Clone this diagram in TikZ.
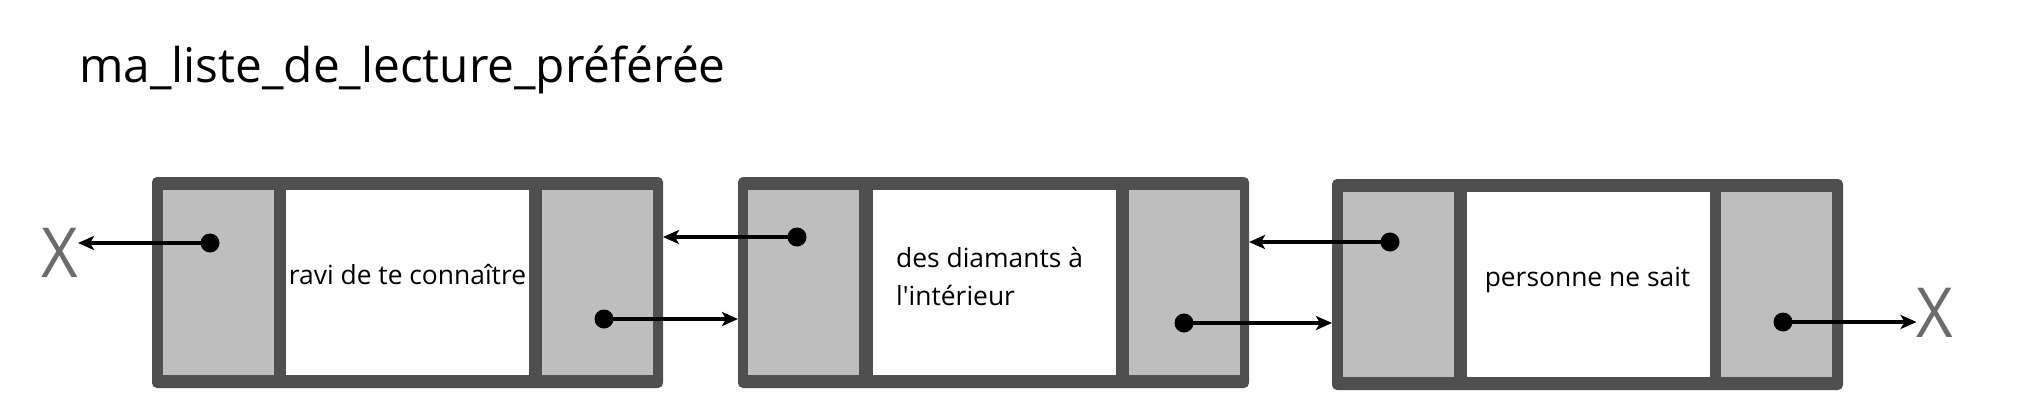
\documentclass[tikz,border=0pt]{standalone}
\usepackage{fontspec}
\setmainfont{Open Sans}[Ligatures=TeXOff]
\usetikzlibrary{arrows.meta,calc}
\definecolor{framegray}{HTML}{4F4F4F}
\definecolor{cellgray}{HTML}{BEBEBE}
\definecolor{xgray}{HTML}{6B6B6B}
\tikzset{
  outerbox/.style={fill=framegray, rounded corners=5pt, inner sep=0pt, outer sep=0pt,
    minimum width=511pt, minimum height=211pt, anchor=north west},
  ptrcell/.style={fill=cellgray, inner sep=0pt, outer sep=0pt,
    minimum width=111pt, minimum height=185pt, anchor=north west},
  datacell/.style={fill=white, inner sep=0pt, outer sep=0pt,
    minimum width=243pt, minimum height=185pt, anchor=north west},
  dotnode/.style={circle, fill=black, minimum size=19pt, inner sep=0pt},
  ptr/.style={line width=4pt, -{Stealth[length=16pt,width=14pt,inset=4pt]}},
  celltext/.style={font=\fontsize{26.4}{38}\selectfont, inner sep=0pt, text=black},
  titletext/.style={font=\fontsize{47.8}{58}\selectfont, inner sep=0pt, text=black},
  nullmark/.style={font=\fontsize{69}{80}\selectfont, inner sep=0pt, text=xgray, xscale=0.92}
}
\begin{document}
\begin{tikzpicture}[x=1pt,y=-1pt]
\useasboundingbox[fill=white] (0,0) rectangle (2042,400);

% title
\node[titletext, anchor=base west] (title) at (79,82) {ma\_liste\_de\_lecture\_préférée};

% box 1
\node[outerbox] (b1) at (152,177) {};
\node[ptrcell] (b1l) at (163,190) {};
\node[datacell] (b1m) at (286,190) {};
\node[ptrcell] (b1r) at (542,190) {};
% box 2
\node[outerbox] (b2) at (738,177) {};
\node[ptrcell] (b2l) at (748,190) {};
\node[datacell] (b2m) at (873,190) {};
\node[ptrcell] (b2r) at (1129,190) {};
% box 3
\node[outerbox] (b3) at (1332,179) {};
\node[ptrcell] (b3l) at (1343,192) {};
\node[datacell] (b3m) at (1467,192) {};
\node[ptrcell] (b3r) at (1721,192) {};

% texts
\node[celltext, anchor=base] (t1) at (407.5,284) {ravi de te connaître};
\node[celltext, anchor=base west, align=left] (t2) at (896,305) {des diamants à\\l'intérieur};
\node[celltext, anchor=base] (t3) at (1587.5,286) {personne ne sait};

% null marks
\node[nullmark] (x1) at (59.5,252.5) {X};
\node[nullmark] (x2) at (1935,312.5) {X};

% dots
\node[dotnode] (d1l) at (210,243) {};
\node[dotnode] (d1r) at (604,319) {};
\node[dotnode] (d2l) at (797,237) {};
\node[dotnode] (d2r) at (1184,323) {};
\node[dotnode] (d3l) at (1390,242) {};
\node[dotnode] (d3r) at (1783,322) {};

% pointers
\draw[ptr] (d1l.center) -- (x1.east |- d1l.center);
\draw[ptr] (d1r.center) -- (b2.west |- d1r.center);
\draw[ptr] (d2l.center) -- (b1.east |- d2l.center);
\draw[ptr] (d2r.center) -- (b3.west |- d2r.center);
\draw[ptr] (d3l.center) -- (b2.east |- d3l.center);
\draw[ptr] (d3r.center) -- (x2.west |- d3r.center);
\end{tikzpicture}
\end{document}
